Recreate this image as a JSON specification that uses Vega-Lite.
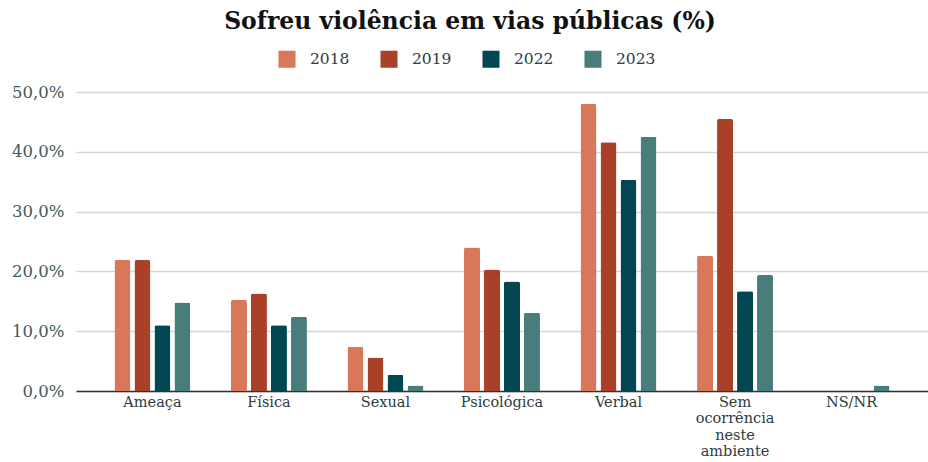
{
  "$schema": "https://vega.github.io/schema/vega-lite/v6.json",
  "width": 852,
  "height": 299,
  "autosize": {"type": "none"},
  "padding": {"left": 76, "top": 92, "right": 0, "bottom": 71},
  "title": {
    "text": "Sofreu violência em vias públicas (%)",
    "anchor": "middle",
    "frame": "group",
    "dx": -32,
    "font": "DejaVu Serif",
    "fontSize": 23.5,
    "fontWeight": "bold",
    "color": "#111111",
    "offset": 17
  },
  "data": {
    "values": [
      {"categoria": "Ameaça", "ano": "2018", "valor": 21.9},
      {"categoria": "Ameaça", "ano": "2019", "valor": 21.9},
      {"categoria": "Ameaça", "ano": "2022", "valor": 11.0},
      {"categoria": "Ameaça", "ano": "2023", "valor": 14.8},
      {"categoria": "Física", "ano": "2018", "valor": 15.2},
      {"categoria": "Física", "ano": "2019", "valor": 16.3},
      {"categoria": "Física", "ano": "2022", "valor": 11.0},
      {"categoria": "Física", "ano": "2023", "valor": 12.4},
      {"categoria": "Sexual", "ano": "2018", "valor": 7.4},
      {"categoria": "Sexual", "ano": "2019", "valor": 5.6},
      {"categoria": "Sexual", "ano": "2022", "valor": 2.7},
      {"categoria": "Sexual", "ano": "2023", "valor": 0.9},
      {"categoria": "Psicológica", "ano": "2018", "valor": 24.0},
      {"categoria": "Psicológica", "ano": "2019", "valor": 20.3},
      {"categoria": "Psicológica", "ano": "2022", "valor": 18.3},
      {"categoria": "Psicológica", "ano": "2023", "valor": 13.1},
      {"categoria": "Verbal", "ano": "2018", "valor": 48.0},
      {"categoria": "Verbal", "ano": "2019", "valor": 41.6},
      {"categoria": "Verbal", "ano": "2022", "valor": 35.3},
      {"categoria": "Verbal", "ano": "2023", "valor": 42.5},
      {"categoria": "Sem ocorrência neste ambiente", "ano": "2018", "valor": 22.6},
      {"categoria": "Sem ocorrência neste ambiente", "ano": "2019", "valor": 45.5},
      {"categoria": "Sem ocorrência neste ambiente", "ano": "2022", "valor": 16.7},
      {"categoria": "Sem ocorrência neste ambiente", "ano": "2023", "valor": 19.4},
      {"categoria": "NS/NR", "ano": "2018", "valor": null},
      {"categoria": "NS/NR", "ano": "2019", "valor": null},
      {"categoria": "NS/NR", "ano": "2022", "valor": null},
      {"categoria": "NS/NR", "ano": "2023", "valor": 0.9}
    ]
  },
  "mark": {"type": "bar", "cornerRadiusTopLeft": 2, "cornerRadiusTopRight": 2},
  "encoding": {
    "x": {
      "field": "categoria",
      "type": "nominal",
      "sort": null,
      "scale": {"paddingInner": 0.348, "paddingOuter": 0.33},
      "axis": {
        "title": null,
        "labelAngle": 0,
        "labelFont": "DejaVu Serif",
        "labelFontSize": 14.5,
        "labelColor": "#2f3b3c",
        "labelPadding": 4,
        "labelLineHeight": 16.6,
        "labelExpr": "datum.label === 'Sem ocorrência neste ambiente' ? split(datum.label, ' ') : datum.label",
        "ticks": false,
        "domainColor": "#333333",
        "domainWidth": 1.5,
        "grid": false
      }
    },
    "xOffset": {
      "field": "ano",
      "type": "nominal",
      "scale": {"paddingInner": 0.2, "paddingOuter": 0}
    },
    "y": {
      "field": "valor",
      "type": "quantitative",
      "scale": {"domain": [0, 50]},
      "axis": {
        "title": null,
        "values": [0, 10, 20, 30, 40, 50],
        "labelExpr": "replace(format(datum.value, '.1f'), '.', ',') + '%'",
        "labelFont": "DejaVu Serif",
        "labelFontSize": 16.5,
        "labelColor": "#44585a",
        "labelPadding": 12,
        "ticks": false,
        "domain": false,
        "gridColor": "#d6d6d6",
        "gridWidth": 1.5
      }
    },
    "color": {
      "field": "ano",
      "type": "nominal",
      "scale": {
        "domain": ["2018", "2019", "2022", "2023"],
        "range": ["#d9775a", "#a94128", "#024651", "#487d7b"]
      },
      "legend": {
        "title": null,
        "orient": "none",
        "direction": "horizontal",
        "legendX": 202,
        "legendY": -42,
        "symbolType": "square",
        "symbolSize": 290,
        "symbolStrokeWidth": 0,
        "labelFont": "DejaVu Serif",
        "labelFontSize": 15.5,
        "labelColor": "#2f3b3c",
        "labelOffset": 14,
        "columnPadding": 30,
        "symbolOpacity": 1
      }
    }
  },
  "config": {
    "view": {"stroke": null},
    "background": "white"
  }
}
